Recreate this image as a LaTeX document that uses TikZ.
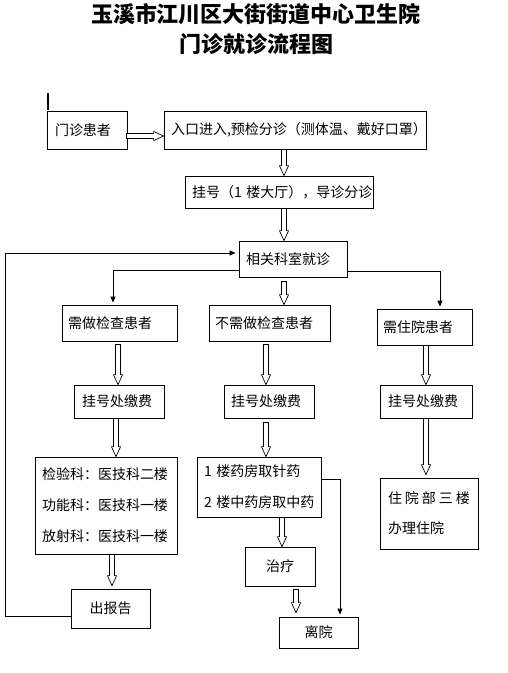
\documentclass[tikz,border=0pt]{standalone}
\usepackage{fontspec}
\setmainfont{Noto Sans CJK SC}
\usetikzlibrary{arrows.meta,calc}
\tikzset{
  box/.style={draw, line width=0.8pt, rectangle, inner ysep=0pt, align=left,
    font=\fontsize{14}{31}\selectfont},
  cbox/.style={draw, line width=0.8pt, rectangle, inner sep=0pt, align=center,
    font=\fontsize{14}{31}\selectfont},
  conn/.style={line width=0.8pt, -{Triangle[length=6pt,width=5pt]}},
  hollowline/.style={line width=0.7pt, fill=white, line join=miter},
  titletext/.style={font=\fontsize{22}{26}\selectfont\bfseries}
}
\newcommand\hollowarrow[2]{%
  \path #1 coordinate (hs) #2 coordinate (he);
  \path ($(he)!10pt!(hs)$) coordinate (hc);
  \draw[hollowline] ($(hs)!2.5pt!90:(he)$) -- ($(hc)!2.5pt!-90:(hs)$) -- ($(hc)!4.6pt!-90:(hs)$) -- (he) -- ($(hc)!4.6pt!90:(hs)$) -- ($(hc)!2.5pt!90:(hs)$) -- ($(hs)!2.5pt!-90:(he)$) -- cycle;
}
\begin{document}
\begin{tikzpicture}[x=1pt,y=-1pt]
\useasboundingbox (0,0) rectangle (507,673);
\fill[white] (0,0) rectangle (507,673);

\node[titletext] (t1) at (256,14) {玉溪市江川区大街街道中心卫生院};
\node[titletext] (t2) at (256,44) {门诊就诊流程图};

\draw[line width=2pt] (48,93) -- (48,110);

\node[box, minimum height=38pt, text width=64pt, inner xsep=8pt] (pat) at (87,130) {门诊患者};
\node[box, minimum height=38pt, text width=248pt, inner xsep=7pt] (entry) at (295,130) {\mbox{入口进入,预检分诊（测体温、戴好口罩）}};
\node[box, minimum height=32pt, text width=174pt, inner xsep=7pt] (reg) at (279,192) {\mbox{挂号（1~楼大厅），导诊分诊}};
\node[box, minimum height=36pt, text width=94pt, inner xsep=7pt] (dept) at (293,259) {相关科室就诊};
\node[box, minimum height=36pt, text width=103pt, inner xsep=6pt] (need) at (119.5,323) {需做检查患者};
\node[box, minimum height=36pt, text width=109pt, inner xsep=6pt] (noneed) at (269.5,323) {不需做检查患者};
\node[box, minimum height=36pt, text width=83pt, inner xsep=6pt] (hosp) at (424.5,327) {需住院患者};
\node[box, minimum height=33pt, text width=74pt, inner xsep=8pt] (pay1) at (119,401.5) {挂号处缴费};
\node[box, minimum height=33pt, text width=76pt, inner xsep=7pt] (pay2) at (269,401.5) {挂号处缴费};
\node[box, minimum height=33pt, text width=76pt, inner xsep=8pt] (pay3) at (426,401.5) {挂号处缴费};
\node[box, minimum height=97pt, text width=128pt, inner xsep=7pt] (lab) at (106,505.5) {检验科：医技科二楼\\功能科：医技科一楼\\放射科：医技科一楼};
\node[box, minimum height=60pt, text width=110pt, inner xsep=7pt] (pharm) at (259,487) {\mbox{1~楼药房取针药}\\\mbox{2~楼中药房取中药}};
\node[box, minimum height=71pt, text width=82pt, inner xsep=8pt, font=\fontsize{14}{30}\selectfont] (inpat) at (429,513.5) {\mbox{住\hspace{3pt}院\hspace{3pt}部\hspace{3pt}三\hspace{3pt}楼}\\办理住院};
\node[cbox, minimum width=70pt, minimum height=39pt] (treat) at (280,566.5) {治疗};
\node[cbox, minimum width=79pt, minimum height=39pt] (report) at (110.5,608.5) {出报告};
\node[cbox, minimum width=79pt, minimum height=31pt] (leave) at (318.5,632.5) {\raisebox{-4pt}{离院}};

% hollow block arrows
\hollowarrow{($(pat.east)+(-1,6)$)}{($(entry.west)+(0,6)$)}
\hollowarrow{($(entry.south)+(-11,0)$)}{($(reg.north)+(5,0)$)}
\hollowarrow{($(reg.south)+(5,0)$)}{($(dept.north)+(-9,0)$)}
\hollowarrow{($(dept.south)+(-9,4)$)}{($(noneed.north)+(14.5,0)$)}
\hollowarrow{($(need.south)+(-1.5,3)$)}{($(pay1.north)+(-1,0)$)}
\hollowarrow{($(noneed.south)+(-3.5,3)$)}{($(pay2.north)+(-3,0)$)}
\hollowarrow{($(hosp.south)+(1.5,0)$)}{($(pay3.north)+(0,0)$)}
\hollowarrow{($(pay1.south)+(-3,0)$)}{($(lab.north)+(10,0)$)}
\hollowarrow{($(pay2.south)+(-3,4)$)}{($(pharm.north)+(7,0)$)}
\hollowarrow{($(pay3.south)+(0,0)$)}{($(inpat.north)+(-3,-3)$)}
\hollowarrow{($(lab.south)+(6,0)$)}{($(report.north)+(1.5,-3)$)}
\hollowarrow{($(pharm.south)+(23,0)$)}{($(treat.north)+(2,0)$)}
\hollowarrow{($(treat.south)+(16,3)$)}{($(leave.north)+(-22.5,-4)$)}

% thin connectors
\coordinate (loopc) at (5,253);
\draw[conn] ($(report.west)+(0,8)$) -| (loopc) -- ($(dept.west)+(-3,-6)$);
\draw[conn] ($(dept.west)+(0,11)$) -| ($(need.north)+(-6.5,-2)$);
\draw[conn] ($(dept.east)+(0,12)$) -| ($(hosp.north)+(15.5,-2)$);
\draw[conn] ($(pharm.east)+(0,-8)$) -| ($(leave.north)+(21.5,-2)$);
\end{tikzpicture}
\end{document}
